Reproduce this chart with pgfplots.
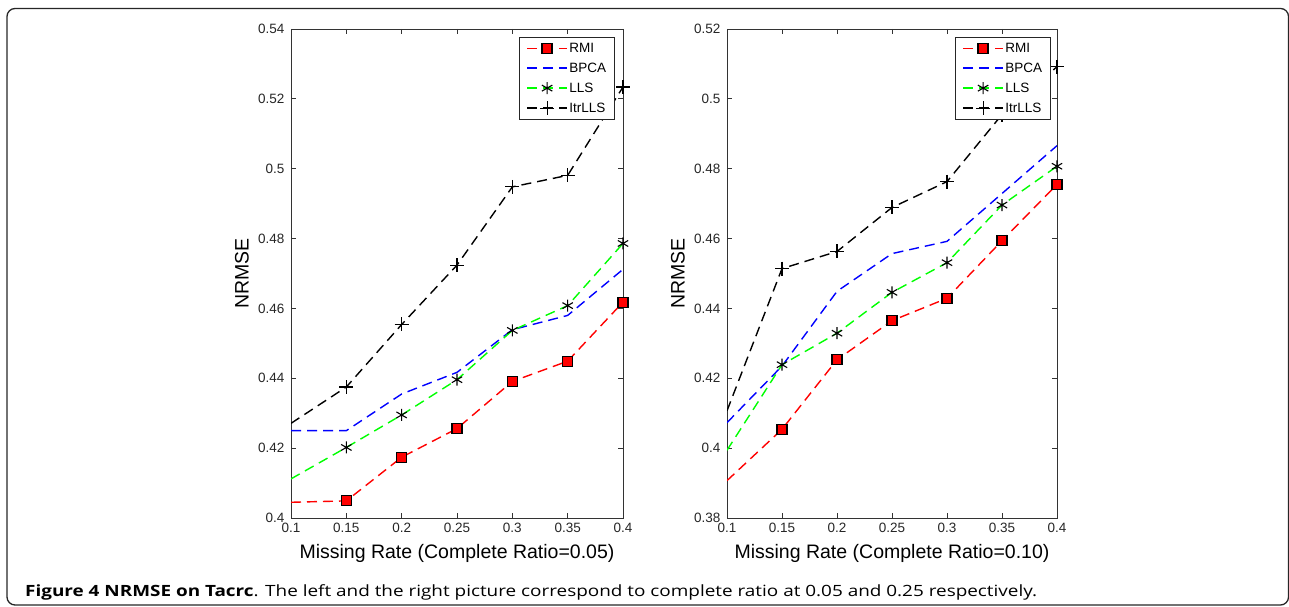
\documentclass[border=0pt]{standalone}
\usepackage{fontspec}
\setmainfont{Liberation Sans}
\newfontfamily\capfont{Open Sans}
\usepackage{pgfplots}
\usepackage{pgfplotstable}
\pgfplotsset{compat=1.18}

% NRMSE, complete ratio 0.05
\pgfplotstableread{
x    RMI    BPCA   LLS    ItrLLS
0.10 0.4045 0.4250 0.4112 0.4271
0.15 0.4049 0.4250 0.4202 0.4375
0.20 0.4174 0.4355 0.4295 0.4554
0.25 0.4256 0.4417 0.4396 0.4724
0.30 0.4391 0.4539 0.4537 0.4948
0.35 0.4449 0.4580 0.4608 0.4981
0.40 0.4618 0.4712 0.4786 0.5234
}\lefttab
% NRMSE, complete ratio 0.10
\pgfplotstableread{
x    RMI    BPCA   LLS    ItrLLS
0.10 0.3907 0.4073 0.3994 0.4107
0.15 0.4054 0.4235 0.4239 0.4514
0.20 0.4253 0.4449 0.4329 0.4563
0.25 0.4365 0.4557 0.4446 0.4689
0.30 0.4429 0.4592 0.4531 0.4763
0.35 0.4594 0.4729 0.4696 0.4955
0.40 0.4755 0.4866 0.4807 0.5092
}\righttab

\pgfplotsset{
  mat/.style={
    scale only axis, height=489pt,
    xmin=0.1, xmax=0.4,
    xtick={0.1,0.15,0.2,0.25,0.3,0.35,0.4},
    tick align=inside, major tick length=5pt,
    axis line style={line width=0.9pt, black!80},
    every tick/.style={line width=0.8pt, black!80},
    ticklabel style={font=\fontsize{13.5}{14}\selectfont, text=black!85},
    /pgf/number format/assume math mode=true,
    /pgf/number format/fixed,
    yticklabel style={xshift=-3pt},
    xticklabel style={yshift=-2pt},
    ylabel={NRMSE}, ylabel style={font=\fontsize{19.5}{20}\selectfont, at={(axis description cs:0,0.5)}, anchor=center, yshift=49pt},
    xlabel style={font=\fontsize{19.5}{20}\selectfont, at={(axis description cs:0.5,0)}, anchor=base, yshift=-41pt},
    legend cell align=left,
    legend style={font=\fontsize{13.5}{14}\selectfont, draw=black!85, line width=0.9pt,
      anchor=north east, inner xsep=7pt, inner ysep=4pt, row sep=6pt,
      nodes={inner sep=1.5pt}},
    legend image code/.code={\draw[##1, mark indices={2}] plot coordinates {(0pt,0pt) (20pt,0pt) (40pt,0pt)};},
    every axis plot/.append style={line width=1.4pt, dash pattern=on 10pt off 6pt, mark indices={2,3,4,5,6,7}},
  },
  rmi/.style={red, mark=square*, mark size=5pt, mark options={solid, fill=red, draw=black, line width=1.2pt}},
  bpca/.style={blue, no marks},
  lls/.style={green, mark=asterisk, mark size=6pt, mark options={solid, black, line width=1.1pt}},
  itr/.style={black, mark=+, mark size=7pt, mark options={solid, black, line width=1.1pt}},
}

\begin{document}
\begin{tikzpicture}[x=1pt,y=1pt]
\useasboundingbox (0,0) rectangle (1289,607);
\draw[line width=1.3pt, black!85, rounded corners=8pt] (7,2) rectangle (1288.5,598.5);

\begin{axis}[mat, at={(291pt,89pt)}, anchor=south west, width=332pt,
  ymin=0.4, ymax=0.54, ytick={0.4,0.42,0.44,0.46,0.48,0.5,0.52,0.54},
  xlabel={Missing Rate (Complete Ratio=0.05)},
  legend style={at={(axis description cs:1,1)}, xshift=-8pt, yshift=-8pt}]
\addplot[rmi]  table[x=x,y=RMI]    {\lefttab};
\addplot[bpca] table[x=x,y=BPCA]   {\lefttab};
\addplot[lls]  table[x=x,y=LLS]    {\lefttab};
\addplot[itr]  table[x=x,y=ItrLLS] {\lefttab};
\legend{RMI,BPCA,LLS,ItrLLS}
\end{axis}

\begin{axis}[mat, at={(727pt,89pt)}, anchor=south west, width=330pt,
  ymin=0.38, ymax=0.52, ytick={0.38,0.4,0.42,0.44,0.46,0.48,0.5,0.52},
  xlabel={Missing Rate (Complete Ratio=0.10)},
  legend style={at={(axis description cs:1,1)}, xshift=-6pt, yshift=-8pt}]
\addplot[rmi]  table[x=x,y=RMI]    {\righttab};
\addplot[bpca] table[x=x,y=BPCA]   {\righttab};
\addplot[lls]  table[x=x,y=LLS]    {\righttab};
\addplot[itr]  table[x=x,y=ItrLLS] {\righttab};
\legend{RMI,BPCA,LLS,ItrLLS}
\end{axis}

\node[anchor=base west, inner sep=0pt] at (25,10.3) {\scalebox{1.22}[1]{\capfont\fontsize{15.5}{18}\selectfont\textbf{Figure 4 NRMSE on Tacrc}. The left and the right picture correspond to complete ratio at 0.05 and 0.25 respectively.}};
\end{tikzpicture}
\end{document}
